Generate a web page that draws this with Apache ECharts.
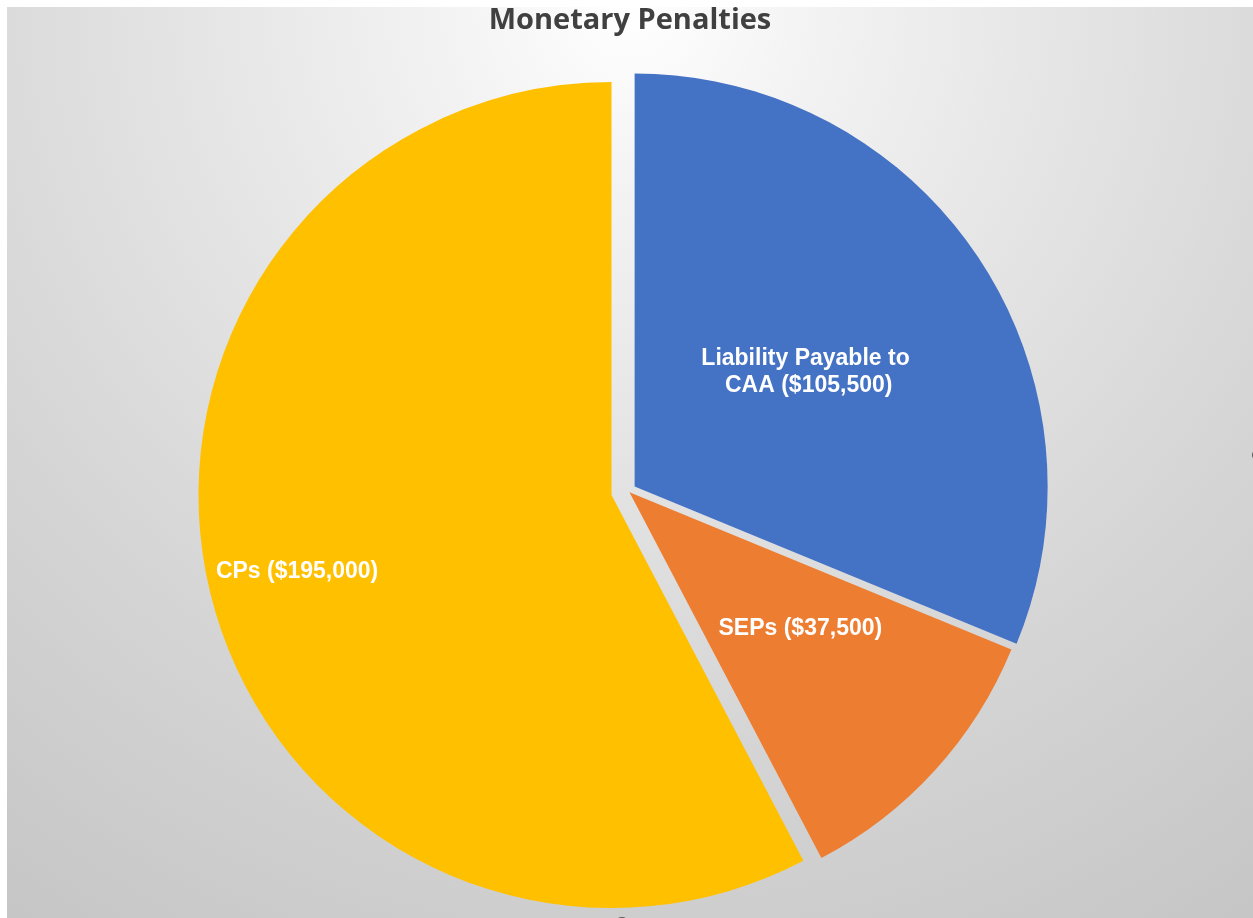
<!DOCTYPE html>
<html><head><meta charset="utf-8">
<script src="https://cdn.jsdelivr.net/npm/echarts@6/dist/echarts.min.js"></script>
<style>
html,body{margin:0;padding:0;background:#ffffff;width:1253px;height:918px;overflow:hidden}
#c{position:absolute;left:7px;top:7px;width:1246px;height:911px}
</style></head>
<body><div id="c"></div>
<script>
const chartTitle = 'Monetary Penalties';
const categories = ['Liability Payable to CAA', 'SEPs', 'CPs'];
const values = [105500, 37500, 195000];
const colors = ['#4472C4', '#ED7D31', '#FFC000'];
const explode = [8, 2, 17];

const labelShift = [[0, 2], [16, -5], [-111, 26]];

const chart = echarts.init(document.getElementById('c'), null, {renderer: 'canvas'});

const series = categories.map(function (cat, k) {
  return {
    type: 'pie',
    center: [621, 484],
    radius: 413,
    startAngle: 90,
    clockwise: true,
    selectedMode: 'multiple',
    selectedOffset: explode[k],
    silent: true,
    animation: false,
    avoidLabelOverlap: false,
    emphasis: {disabled: true, scale: false},
    select: {itemStyle: {borderWidth: 0}},
    labelLine: {show: false},
    label: {show: false},
    labelLayout: function (p) {
      return p.dataIndex === k ? {dx: labelShift[k][0], dy: labelShift[k][1]} : {};
    },
    data: categories.map(function (n, i) {
      const mine = i === k;
      return {
        name: n,
        value: values[i],
        selected: mine,
        itemStyle: {color: mine ? colors[i] : 'rgba(0,0,0,0)', borderWidth: 0},
        label: mine ? {
          show: true,
          position: 'inside',
          formatter: function (p) { return p.name + ' ($' + p.value.toLocaleString('en-US') + ')'; },
          width: 240,
          overflow: 'break',
          align: 'center',
          color: '#ffffff',
          fontFamily: '"Liberation Sans", Arial, sans-serif',
          fontWeight: 'bold',
          fontSize: 23,
          lineHeight: 27
        } : {show: false}
      };
    })
  };
});

chart.setOption({
  animation: false,
  backgroundColor: {
    type: 'radial', x: 0.5, y: 0, r: 1.2,
    colorStops: [
      {offset: 0, color: '#ffffff'},
      {offset: 0.15, color: '#f4f4f4'},
      {offset: 0.38, color: '#e6e6e6'},
      {offset: 0.57, color: '#dbdbdb'},
      {offset: 0.68, color: '#d5d5d5'},
      {offset: 0.85, color: '#cdcdcd'},
      {offset: 1, color: '#c6c6c6'}
    ]
  },
  title: {
    text: chartTitle,
    left: 'center',
    top: -6,
    textStyle: {
      fontFamily: '"Open Sans", Lato, sans-serif',
      fontWeight: 'bold',
      fontSize: 29,
      color: '#404040'
    }
  },
  graphic: [
    {type: 'circle', shape: {cx: 615, cy: 918, r: 8}, style: {fill: '#5a5a5a'}, silent: true},
    {type: 'circle', shape: {cx: 1251, cy: 448, r: 6}, style: {fill: '#5a5a5a'}, silent: true}
  ],
  series: series
});
</script>
</body></html>
